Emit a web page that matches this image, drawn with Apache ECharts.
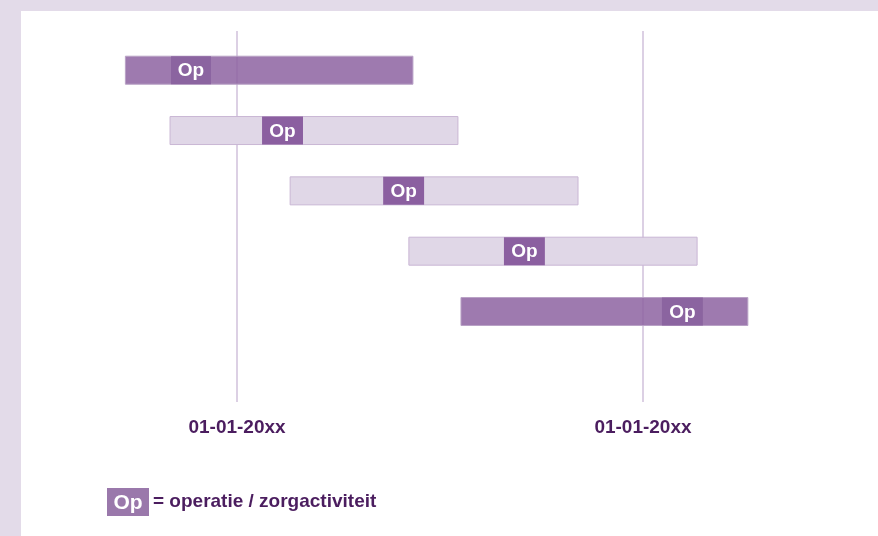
<!DOCTYPE html>
<html>
<head>
<meta charset="utf-8">
<script src="https://cdn.jsdelivr.net/npm/echarts@6/dist/echarts.min.js"></script>
<style>
  html, body { margin: 0; padding: 0; }
  #chart { width: 878px; height: 536px; }
</style>
</head>
<body>
<div id="chart"></div>
<script>
// months relative to the first 01-01-20xx marker (second marker = 12)
const rows = [1, 2, 3, 4, 5]
const barStart = [-3.3, -1.98, 1.57, 5.08, 6.62]
const barEnd = [5.2, 6.53, 10.08, 13.6, 15.1]
const opStart = [-1.95, 0.74, 4.32, 7.89, 12.56]
const opEnd = [-0.77, 1.95, 5.53, 9.1, 13.77]
const darkRow = [true, false, false, false, true]
const tickValues = [0, 12]
const tickLabels = ['01-01-20xx', '01-01-20xx']
const legendText = '= operatie / zorgactiviteit'

const font = 'Liberation Sans, Arial, sans-serif'
const textColor = '#4b1d5f'

const chart = echarts.init(document.getElementById('chart'))

const seriesData = rows.map((r, i) => [r, barStart[i], barEnd[i], opStart[i], opEnd[i], darkRow[i] ? 1 : 0])

function renderItem (params, api) {
  const row = api.value(0)
  const p0 = api.coord([api.value(1), row])
  const p1 = api.coord([api.value(2), row])
  const o0 = api.coord([api.value(3), row])
  const o1 = api.coord([api.value(4), row])
  const dark = api.value(5) === 1
  const h = api.size([0, 1])[1] * 0.464
  return {
    type: 'group',
    children: [
      {
        type: 'rect',
        shape: { x: p0[0], y: p0[1] - h / 2, width: p1[0] - p0[0], height: h },
        style: {
          fill: dark ? 'rgba(140,96,160,0.84)' : '#e0d7e7',
          stroke: dark ? '#b9a2c6' : '#c9b6d4',
          lineWidth: 1
        }
      },
      {
        type: 'rect',
        shape: { x: o0[0], y: o0[1] - h / 2, width: o1[0] - o0[0], height: h },
        style: { fill: dark ? '#8b64a0' : '#8b5fa0' }
      },
      {
        type: 'text',
        style: {
          x: (o0[0] + o1[0]) / 2,
          y: o0[1] + 1,
          text: 'Op',
          fill: '#fff',
          font: 'bold 19px ' + font,
          align: 'center',
          verticalAlign: 'middle'
        }
      }
    ]
  }
}

const option = {
  backgroundColor: '#e3dbe9',
  animation: false,
  grid: { left: 101.7, right: 99.7, top: 31, bottom: 134 },
  xAxis: {
    type: 'value',
    min: -4,
    max: 16,
    axisLine: { show: false },
    axisTick: { show: false },
    splitLine: { show: false },
    axisLabel: {
      customValues: tickValues,
      formatter: (v) => tickLabels[tickValues.indexOf(v)] || '',
      margin: 16,
      fontFamily: font,
      fontWeight: 'bold',
      fontSize: 19,
      color: textColor
    }
  },
  yAxis: {
    type: 'value',
    inverse: true,
    min: 0.35,
    max: 6.5,
    show: false
  },
  graphic: [
    {
      type: 'rect',
      z: -10,
      shape: { x: 21, y: 11, width: 857, height: 525 },
      style: { fill: '#ffffff' }
    },
    {
      type: 'rect',
      shape: { x: 107, y: 488, width: 42, height: 28 },
      style: { fill: '#9a78ab' }
    },
    {
      type: 'text',
      style: {
        x: 128, y: 503, text: 'Op', fill: '#fff',
        font: 'bold 21px ' + font, align: 'center', verticalAlign: 'middle'
      }
    },
    {
      type: 'text',
      style: {
        x: 153, y: 502, text: legendText, fill: textColor,
        font: 'bold 19px ' + font, align: 'left', verticalAlign: 'middle'
      }
    }
  ],
  series: [
    {
      type: 'custom',
      renderItem: renderItem,
      encode: { x: [1, 2, 3, 4], y: 0 },
      data: seriesData,
      markLine: {
        silent: true,
        symbol: 'none',
        label: { show: false },
        lineStyle: { color: '#dcd0e4', width: 2, type: 'solid' },
        data: tickValues.map(v => ({ xAxis: v })),
        z: 1
      },
      z: 2
    }
  ]
}

chart.setOption(option)
</script>
</body>
</html>
